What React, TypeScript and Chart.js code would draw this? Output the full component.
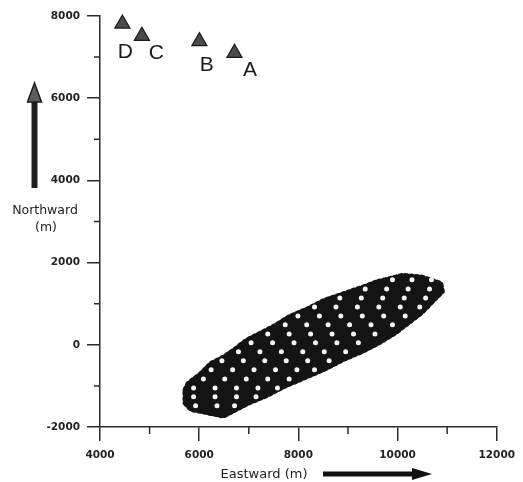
import React, { useEffect, useRef } from "react";
import { Chart, registerables } from "chart.js";

Chart.register(...registerables);

// ---- Data (metres) ----
const stationNames = ["A", "B", "C", "D"];
const stationEast = [6712, 6004, 4845, 4452];
const stationNorth = [7100, 7384, 7513, 7813];

// outline of the dense receiver patch
const patchEast = [
  5704, 5769, 6031, 6228, 6491, 6688, 6949, 7277, 7539, 7800, 8193, 8522, 8915, 9308, 9570, 9963, 10095,
  10488, 10881, 10914, 10749, 10488, 10226, 9963, 9636, 9308, 8915, 8522, 8129, 7735, 7342, 7014, 6688,
  6491, 6163, 5834, 5704,
];
const patchNorth = [
  -1096, -933, -690, -447, -286, -123, 120, 322, 485, 687, 892, 1094, 1257, 1417, 1539, 1660, 1702,
  1660, 1500, 1295, 1094, 770, 527, 283, 40, -164, -366, -610, -812, -1016, -1259, -1420, -1624,
  -1746, -1665, -1584, -1421,
];

// white gaps inside the patch, row by row
const gapRowNorth = [1580, 1360, 1140, 920, 700, 485, 265, 50, -170, -390, -610, -830, -1050, -1265, -1485];
const gapRowEast = [
  [9898, 10291, 10684],
  [9348, 9780, 10213, 10645],
  [8836, 9269, 9701, 10134, 10566],
  [8325, 8758, 9190, 9623, 10055, 10448],
  [7991, 8424, 8856, 9289, 9721, 10154],
  [7735, 8168, 8600, 9033, 9465, 9898],
  [7382, 7814, 8247, 8679, 9112, 9544],
  [7047, 7480, 7912, 8345, 8777, 9210],
  [6792, 7224, 7657, 8089, 8522, 8954],
  [6458, 6890, 7323, 7755, 8188, 8620],
  [6241, 6674, 7106, 7539, 7971, 8325],
  [6084, 6516, 6949, 7382, 7814],
  [5887, 6320, 6752, 7185, 7578],
  [5887, 6320, 6752, 7146],
  [5927, 6359, 6713],
];

const xTicks = [4000, 6000, 8000, 10000, 12000];
const yTicks = [-2000, 0, 2000, 4000, 6000, 8000];
const xMinorTicks = [5000, 7000, 9000, 11000];
const yMinorTicks = [-1000, 1000, 3000, 5000, 7000];

const xTitle = "Eastward (m)";
const yTitle = ["Northward", "(m)"];

const AXIS = "#2b2b2b";
const TEXT = "#222222";

const labelOffsets: Record<string, [number, number]> = {
  A: [15.4, 15.5],
  B: [7.4, 22],
  C: [14.5, 15],
  D: [3, 27.3],
};

const decorPlugin = {
  id: "decor",
  afterDraw(chart: any) {
    const ctx: CanvasRenderingContext2D = chart.ctx;
    const xs = chart.scales.x;
    const ys = chart.scales.y;
    const area = chart.chartArea;
    ctx.save();
    // minor ticks
    ctx.strokeStyle = AXIS;
    ctx.lineWidth = 1.5;
    ctx.beginPath();
    xMinorTicks.forEach((v) => {
      const p = xs.getPixelForValue(v);
      ctx.moveTo(p, area.bottom);
      ctx.lineTo(p, area.bottom + 7);
    });
    yMinorTicks.forEach((v) => {
      const p = ys.getPixelForValue(v);
      ctx.moveTo(area.left, p);
      ctx.lineTo(area.left - 6, p);
    });
    ctx.stroke();

    // station letters
    const meta = chart.getDatasetMeta(2);
    ctx.fillStyle = "#1a1a1a";
    ctx.font = "21px 'Liberation Sans', Arial, sans-serif";
    ctx.textAlign = "center";
    ctx.textBaseline = "alphabetic";
    stationNames.forEach((name, i) => {
      const el = meta.data[i];
      const [dx, dy] = labelOffsets[name];
      ctx.fillText(name, el.x + dx, el.y + dy + 7.5);
    });

    // axis titles
    ctx.fillStyle = TEXT;
    ctx.font = "12.5px 'DejaVu Sans', sans-serif";
    ctx.fillText(yTitle[0], 45, 214);
    ctx.fillText(yTitle[1], 46, 231);
    ctx.font = "13px 'DejaVu Sans', sans-serif";
    ctx.fillText(xTitle, 264, 477.5);

    // north arrow
    ctx.fillStyle = "#1e1e1e";
    ctx.fillRect(31.5, 100, 6, 88);
    ctx.beginPath();
    ctx.moveTo(34.5, 83);
    ctx.lineTo(41.5, 102);
    ctx.lineTo(27.5, 102);
    ctx.closePath();
    ctx.fillStyle = "#5e5e5e";
    ctx.fill();
    ctx.strokeStyle = "#1e1e1e";
    ctx.lineWidth = 1.5;
    ctx.stroke();

    // east arrow
    ctx.fillStyle = "#111111";
    ctx.fillRect(323, 471.5, 92, 5);
    ctx.beginPath();
    ctx.moveTo(432, 474);
    ctx.lineTo(412, 468);
    ctx.lineTo(412, 480);
    ctx.closePath();
    ctx.fill();
    ctx.restore();
  },
};

export default function App() {
  const canvasRef = useRef<HTMLCanvasElement | null>(null);

  useEffect(() => {
    if (!canvasRef.current) return;
    const patch = patchEast.map((x, i) => ({ x, y: patchNorth[i] }));
    patch.push({ x: patchEast[0], y: patchNorth[0] });
    const gaps: { x: number; y: number }[] = [];
    gapRowNorth.forEach((y, r) => gapRowEast[r].forEach((x) => gaps.push({ x, y })));
    const stations = stationEast.map((x, i) => ({ x, y: stationNorth[i] }));

    const tickFont = { family: "'DejaVu Sans', sans-serif", size: 10.5, weight: "bold" as const };

    const chart = new Chart(canvasRef.current, {
      type: "scatter",
      data: {
        datasets: [
          {
            label: "patch",
            data: patch,
            showLine: true,
            fill: "shape",
            backgroundColor: "#141414",
            borderColor: "#141414",
            borderWidth: 4,
            borderDash: [2.5, 3],
            borderCapStyle: "round",
            borderJoinStyle: "round",
            pointRadius: 0,
            tension: 0,
            order: 3,
          } as any,
          {
            label: "gaps",
            data: gaps,
            pointStyle: "circle",
            pointRadius: 2.5,
            pointBorderWidth: 0,
            pointBackgroundColor: "#f4f4f4",
            backgroundColor: "#f4f4f4",
            borderColor: "#f4f4f4",
            order: 2,
          } as any,
          {
            label: "stations",
            data: stations,
            pointStyle: "triangle",
            pointRadius: 8.7,
            pointBackgroundColor: "#4a4a4a",
            pointBorderColor: "#1a1a1a",
            pointBorderWidth: 1.2,
            clip: false,
            order: 1,
          } as any,
        ],
      },
      options: {
        responsive: false,
        animation: false,
        layout: { padding: { top: 16, right: 16.5, left: 0, bottom: 0 } },
        plugins: { legend: { display: false }, tooltip: { enabled: false } },
        scales: {
          x: {
            type: "linear",
            min: 4000,
            max: 12000,
            afterBuildTicks: (s: any) => {
              s.ticks = xTicks.map((value) => ({ value }));
            },
            afterFit: (s: any) => {
              s.height = 55;
            },
            ticks: {
              callback: (v: any) => String(v),
              font: tickFont,
              color: TEXT,
              padding: 8,
              maxRotation: 0,
              autoSkip: false,
            },
            grid: { drawOnChartArea: false, drawTicks: true, tickLength: 14, color: AXIS, lineWidth: 1.5 },
            border: { display: true, color: AXIS, width: 1.5 },
          },
          y: {
            type: "linear",
            min: -2000,
            max: 8000,
            afterBuildTicks: (s: any) => {
              s.ticks = yTicks.map((value) => ({ value }));
            },
            afterFit: (s: any) => {
              s.width = 100;
            },
            ticks: {
              callback: (v: any) => String(v),
              font: tickFont,
              color: TEXT,
              padding: 7,
              autoSkip: false,
            },
            grid: { drawOnChartArea: false, drawTicks: true, tickLength: 13, color: AXIS, lineWidth: 1.5 },
            border: { display: true, color: AXIS, width: 1.5 },
          },
        },
      },
      plugins: [decorPlugin],
    });
    return () => chart.destroy();
  }, []);

  return (
    <div style={{ position: "fixed", left: 0, top: 0, width: 523, height: 482, background: "#ffffff" }}>
      <canvas ref={canvasRef} width={523} height={482} style={{ display: "block" }} />
    </div>
  );
}
